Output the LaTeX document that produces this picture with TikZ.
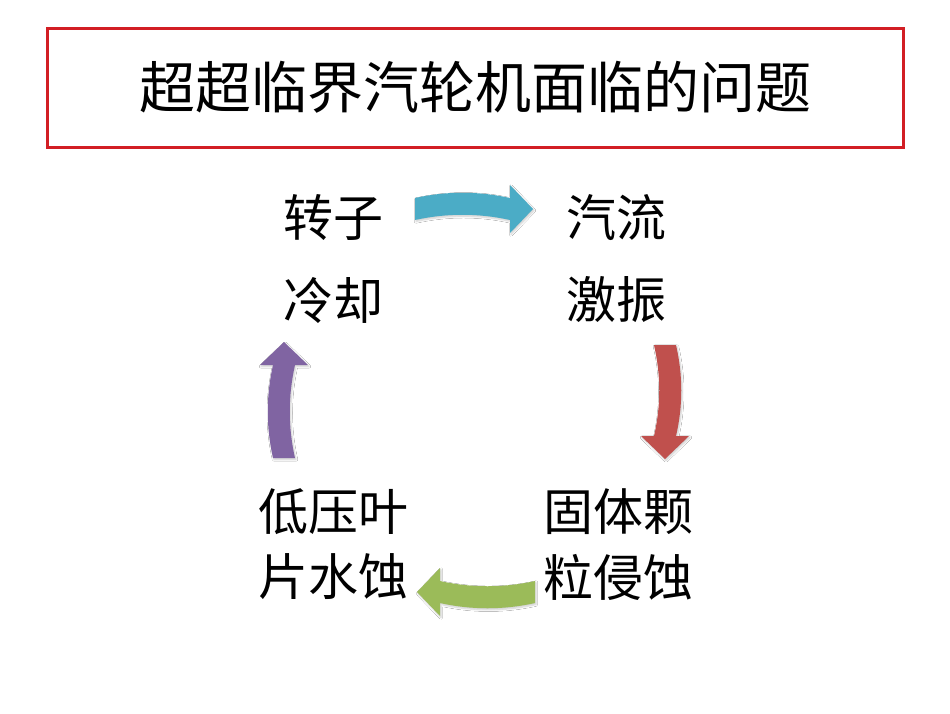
\documentclass[tikz,border=0pt]{standalone}
\usepackage{fontspec}
\newfontfamily\cjk{Noto Sans CJK SC}
\usetikzlibrary{shadows.blur}
\definecolor{titlered}{RGB}{210,30,36}
\definecolor{arrblue}{RGB}{75,172,198}
\definecolor{arrred}{RGB}{192,80,77}
\definecolor{arrgreen}{RGB}{155,187,89}
\definecolor{arrpurple}{RGB}{128,100,162}
\tikzset{
  lbl/.style={font=\cjk\fontsize{50}{58}\selectfont, inner sep=0pt, text=black},
  arrshape/.style={blur shadow={shadow xshift=1pt, shadow yshift=-1.5pt, shadow blur steps=6, shadow opacity=20}}
}
% #1 colour, #2 tail point, #3 rotation, #4 total length
\newcommand{\bentarrow}[4]{%
  \begin{scope}[shift={#2}, rotate=#3]
    \fill[#1, arrshape]
      (0,-11) .. controls ({(#4-23)/3},-18) and ({2*(#4-23)/3},-18) .. ({#4-23},-11)
      -- ({#4-23},-24) -- (#4,0) -- ({#4-23},24) -- ({#4-23},11)
      .. controls ({2*(#4-23)/3},4) and ({(#4-23)/3},4) .. (0,11) -- cycle;
  \end{scope}}
\begin{document}
\begin{tikzpicture}[x=1pt,y=-1pt]
\useasboundingbox (0,0) rectangle (950,713);
\fill[white] (0,0) rectangle (950,713);
\node[draw=titlered, line width=3pt, minimum width=856pt, minimum height=119pt, inner sep=0pt,
      font=\cjk\fontsize{56}{64}\selectfont] (title) at (475,87.5) {超超临界汽轮机面临的问题};

\node[lbl] (a1) at (333,218) {转子};
\node[lbl] (a2) at (333,300) {冷却};
\node[lbl] (b1) at (616,218) {汽流};
\node[lbl] (b2) at (616,300) {激振};
\node[lbl] (c1) at (618,512) {固体颗};
\node[lbl] (c2) at (618,577) {粒侵蚀};
\node[lbl] (d1) at (333,512) {低压叶};
\node[lbl] (d2) at (333,577) {片水蚀};

\bentarrow{arrblue}{(415,209)}{0}{118}
\bentarrow{arrred}{(665,345)}{-90}{114}
\bentarrow{arrgreen}{(535,592)}{180}{118}
\bentarrow{arrpurple}{(284,458)}{90}{116}
\end{tikzpicture}
\end{document}
